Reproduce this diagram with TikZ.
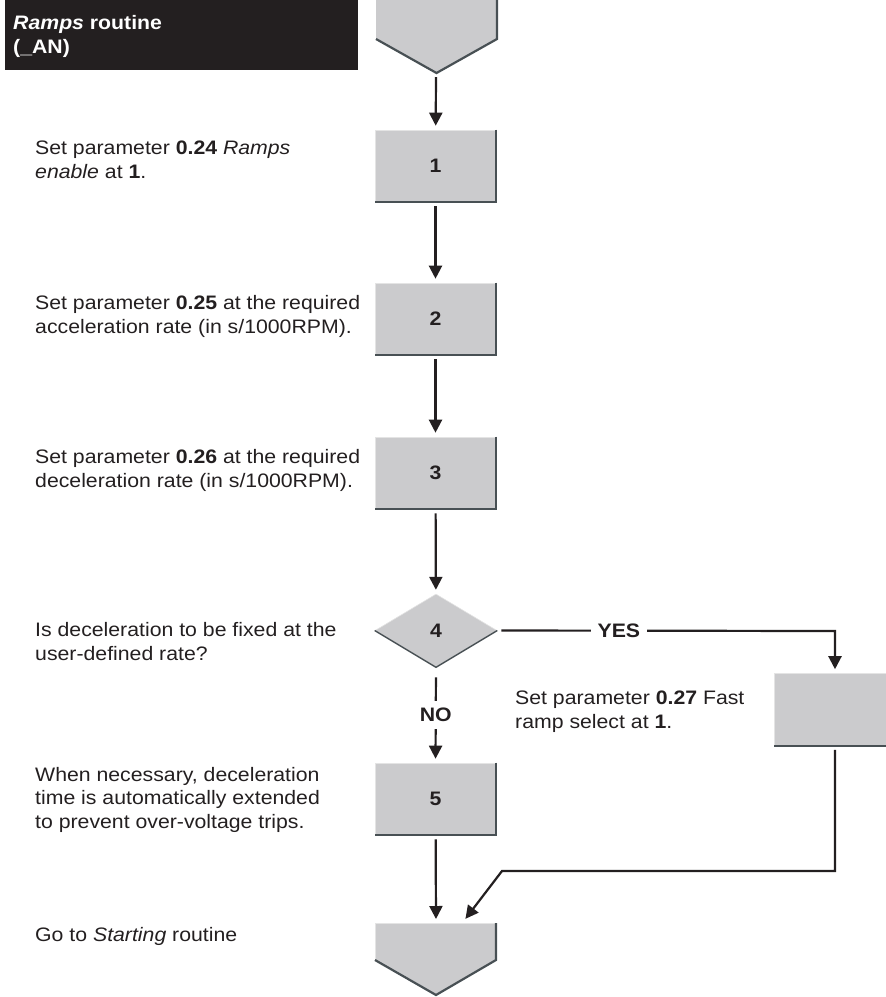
\documentclass[tikz,border=0pt]{standalone}
\usepackage{fontspec}
\setmainfont{Liberation Sans}[FakeStretch=1.09]
\usetikzlibrary{shapes.geometric, arrows.meta}
\definecolor{basegrey}{RGB}{203,203,205}
\definecolor{baseshadow}{RGB}{72,80,84}
\definecolor{baseblack}{RGB}{35,31,32}
\definecolor{baselight}{RGB}{228,228,228}

\begin{document}
\begin{tikzpicture}[x=1pt, y=-1pt, font=\fontsize{19.5}{23.5}\selectfont, text=baseblack]
  \tikzset{
    step_box/.style={
      rectangle, draw=baselight, fill=basegrey, line width=0.6pt, minimum width=121pt, minimum height=72pt, inner sep=0pt, font=\fontsize{19.5}{23.5}\selectfont\bfseries
    },
    grey_diamond/.style={
      diamond, draw=baselight, fill=basegrey, line width=0.6pt, minimum width=122pt, minimum height=73pt, inner sep=0pt, font=\fontsize{19.5}{23.5}\selectfont\bfseries
    },
    title_box/.style={rectangle, fill=baseblack, minimum width=353pt, minimum height=70pt, inner sep=0pt},
    shadow_edge/.style={baseshadow, line width=2.2pt},
    flow_arrow/.style={-{Triangle[width=13pt,length=13pt]}, line width=2.2pt, draw=baseblack, shorten <=4pt, shorten >=4pt},
    step_text/.style={anchor=base west, align=left, inner sep=0pt},
    branch_label/.style={fill=white, font=\fontsize{19.5}{23.5}\selectfont\bfseries}
  }

\clip (0,0) rectangle (886,997);

% title
\node[title_box, anchor=north west] (title) at (5,0) {};
\node[step_text, text=white] (title_text) at (13,53) {\textbf{\textit{Ramps} routine}\\\textbf{(\_AN)}};

% start and end of the routine
\fill[basegrey] (376,-2) -- (497,-2) -- (497,39) -- (436.5,73) -- (376,39) -- cycle;
\draw[shadow_edge] (497,-2) -- (497,39) -- (436.5,73) -- (376,39);
\coordinate (start_tip) at (436,73);

\fill[basegrey] (375,923) -- (496,923) -- (496,960) -- (436,995) -- (375,960) -- cycle;
\draw[baselight, line width=0.6pt] (375,960) -- (375,923) -- (496,923);
\draw[shadow_edge] (496,923) -- (496,960) -- (436,995) -- (375,960);
\coordinate (end_top) at (436,923);
\coordinate (end_return) at (463,922);

% steps
\node[step_box] (b1) at (435.5,166) {1};
\node[step_box] (b2) at (435.5,319) {2};
\node[step_box] (b3) at (435.5,473) {3};
\node[grey_diamond] (d4) at (436,630.5) {4};
\node[step_box] (b5) at (435.5,799) {5};
\node[step_box] (fastramp) at (835,709.5) {};

\foreach \b in {b1,b2,b3,b5,fastramp} {
  \draw[shadow_edge] (\b.north east) -- (\b.south east) -- (\b.south west);
}
\draw[baseshadow, line width=1.4pt] (d4.west) -- (d4.south) -- (d4.east);

% explanations (anchored at the baseline of their last line)
\node[step_text] (t1) at (35,178) {Set parameter \textbf{0.24} \textit{Ramps}\\\textit{enable} at \textbf{1}.};
\node[step_text] (t2) at (35,333) {Set parameter \textbf{0.25} at the required\\acceleration rate (in s/1000RPM).};
\node[step_text] (t3) at (35,487) {Set parameter \textbf{0.26} at the required\\deceleration rate (in s/1000RPM).};
\node[step_text] (t4) at (35,660) {Is deceleration to be fixed at the\\user-defined rate?};
\node[step_text] (t5) at (35,828) {When necessary, deceleration\\time is automatically extended\\to prevent over-voltage trips.};
\node[step_text] (t6) at (35,941) {Go to \textit{Starting} routine};
\node[step_text] (t_fast) at (515,728) {Set parameter \textbf{0.27} Fast\\ramp select at \textbf{1}.};

% connectors
\coordinate (yes_corner) at (835,631);
\coordinate (back_corner) at (835,871);
\coordinate (back_bend) at (502,871);

\draw[flow_arrow] (start_tip) -- (b1);
\foreach \a/\b in {b1/b2, b2/b3, b3/d4, b5/end_top} {
  \draw[flow_arrow] (\a) -- (\b);
}
\draw[flow_arrow, shorten <=10pt] (d4.south) -- node[branch_label, inner xsep=2pt, inner ysep=7pt] {NO} (b5.north);
\draw[flow_arrow] (d4.east) -- node[branch_label, pos=0.36, inner xsep=7pt] {YES} (yes_corner) -- (fastramp.north);
\draw[flow_arrow] (fastramp.south) -- (back_corner) -- (back_bend) -- (end_return);

\end{tikzpicture}
\end{document}
